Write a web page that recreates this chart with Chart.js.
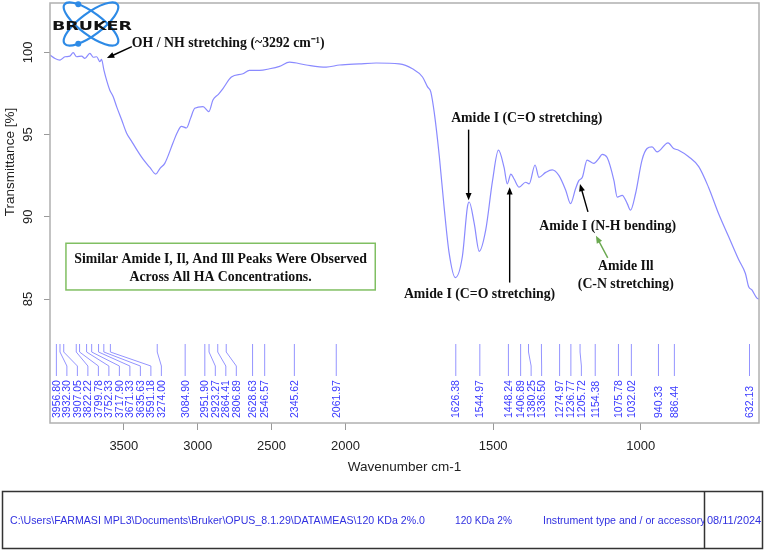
<!DOCTYPE html>
<html>
<head>
<meta charset="utf-8">
<script src="https://cdn.jsdelivr.net/npm/chart.js@4.4.1/dist/chart.umd.min.js"></script>
<style>
    html, body { margin: 0; padding: 0; background: #fff; }
    #wrap { width: 765px; height: 552px; position: relative; }
</style>
</head>
<body>
<div id="wrap"><canvas id="ftir" width="765" height="552"></canvas></div>
<script>
// spectrum (wavenumber cm-1 / transmittance %)
const wavenumbers = [4000, 3966, 3932, 3899, 3865, 3843, 3820, 3786, 3764, 3730, 3707, 3684, 3662, 3651, 3635, 3615,
    3595, 3572, 3549, 3515, 3482, 3448, 3414, 3370, 3324, 3284, 3255, 3223, 3167, 3140, 3110, 3076, 3048, 3020,
    2964, 2924, 2897, 2860, 2829, 2772, 2694, 2650, 2603, 2581, 2513, 2446, 2378, 2265, 2130, 2040, 1953, 1896,
    1818, 1773, 1739, 1722, 1711, 1699, 1682, 1666, 1649, 1628, 1604, 1587, 1581, 1564, 1547, 1525, 1502, 1482,
    1463, 1452, 1440, 1429, 1412, 1390, 1378, 1358, 1345, 1322, 1300, 1277, 1254, 1238, 1221, 1210, 1198, 1182,
    1159, 1142, 1131, 1114, 1091, 1080, 1063, 1046, 1035, 1018, 996, 979, 962, 945, 908, 889, 872, 838, 804, 771,
    737, 703, 669, 646, 635, 624, 607, 600];
const transmittance = [99.84, 99.63, 99.53, 99.73, 99.77, 99.98, 99.73, 99.77, 99.63, 99.94, 99.70, 99.73, 99.43, 99.57, 98.92, 98.25,
    97.7, 97.3, 96.7, 95.9, 95.1, 94.6, 94.1, 93.5, 93.0, 92.6, 92.95, 93.25, 94.5, 95.1, 95.5, 95.4, 96.0, 96.6,
    96.7, 96.4, 97.1, 97.45, 97.8, 98.5, 98.7, 98.9, 98.9, 98.9, 99.0, 99.15, 99.4, 99.23, 99.1, 99.23, 99.3, 99.35,
    99.3, 99.0, 98.5, 97.9, 97.6, 96.3, 93.65, 90.6, 87.8, 86.3, 87.6, 90.6, 90.9, 89.6, 87.9, 89.2, 92.2, 94.05,
    93.0, 92.0, 92.6, 92.3, 91.8, 92.1, 92.0, 93.15, 92.4, 92.7, 92.85, 92.5, 91.6, 90.8, 91.7, 92.2, 92.4, 93.45,
    93.25, 93.55, 93.8, 93.6, 92.2, 91.2, 91.3, 90.8, 90.4, 91.4, 93.45, 94.15, 94.25, 93.95, 94.5, 94.15, 94.05, 93.65, 93.05, 91.8,
    90.2, 88.8, 87.4, 86.55, 85.75, 85.55, 85.05, 85.0];

// peak picking labels
const peakLabels = ['3956.80', '3932.30', '3907.05', '3822.22', '3799.78', '3752.33', '3717.90', '3671.33', '3635.63',
    '3591.18', '3274.00', '3084.90', '2951.90', '2923.27', '2864.41', '2806.89', '2628.63', '2546.57', '2345.62',
    '2061.97', '1626.38', '1544.97', '1448.24', '1406.89', '1380.25', '1336.50', '1274.97', '1236.77', '1205.72',
    '1154.38', '1075.78', '1032.02', '940.33', '886.44', '632.13'];

const xTickValues = [3500, 3000, 2500, 2000, 1500, 1000];
const yTickValues = [85, 90, 95, 100];

// OPUS style axis: 4000-2000 is drawn at half the scale of 2000-600
const toAxis = function (w) {
    return w >= 2000 ? (4000 - w) / 2 : 1000 + (2000 - w);
};
const fromAxis = function (u) {
    return u <= 1000 ? 4000 - 2 * u : 2000 - (u - 1000);
};

// annotations in data units: [wavenumber, transmittance]
const notes = [
    {lines: ['OH / NH stretching (~3292 cm\u207B\u00B9)'], at: [3446, 100.57], align: 'left', from: [3446, 100.35], to: [3615, 99.65], color: '#000'},
    {lines: ['Amide I (C=O stretching)'], at: [1386, 96.0], align: 'center', from: [1583, 95.3], to: [1583, 91.0], color: '#000'},
    {lines: ['Amide I (C=O stretching)'], at: [1546, 85.25], align: 'center', from: [1444, 86.0], to: [1444, 91.8], color: '#000'},
    {lines: ['Amide I (N-H bending)'], at: [1112, 89.44], align: 'center', from: [1179, 90.3], to: [1206, 92.0], color: '#000'},
    {lines: ['Amide Ill', '(C-N stretching)'], at: [1051, 86.97], align: 'center', from: [1112, 87.5], to: [1152, 88.85], color: '#6aa84f'}
];
const boxLines = ['Similar Amide I, Il, And Ill Peaks Were Observed', 'Across All HA Concentrations.'];

const footerTexts = ['C:\\Users\\FARMASI MPL3\\Documents\\Bruker\\OPUS_8.1.29\\DATA\\MEAS\\120 KDa 2%.0', '120 KDa 2%',
    'Instrument type and / or accessory', '08/11/2024'];

const serifBold = 'bold 13.8px "Liberation Serif", "Times New Roman", serif';
const sans = '"Liberation Sans", Arial, sans-serif';

const arrow = function (ctx, x1, y1, x2, y2, color) {
    const a = Math.atan2(y2 - y1, x2 - x1), h = 8;
    ctx.strokeStyle = color;
    ctx.fillStyle = color;
    ctx.lineWidth = 1.4;
    ctx.beginPath();
    ctx.moveTo(x1, y1);
    ctx.lineTo(x2 - Math.cos(a) * h * 0.7, y2 - Math.sin(a) * h * 0.7);
    ctx.stroke();
    ctx.beginPath();
    ctx.moveTo(x2, y2);
    ctx.lineTo(x2 - h * Math.cos(a - 0.38), y2 - h * Math.sin(a - 0.38));
    ctx.lineTo(x2 - h * Math.cos(a + 0.38), y2 - h * Math.sin(a + 0.38));
    ctx.closePath();
    ctx.fill();
};

const drawLogo = function (ctx) {
    ctx.save();
    ctx.strokeStyle = '#2d8ae6';
    ctx.fillStyle = '#2d8ae6';
    ctx.lineWidth = 2.2;
    [0.64, -0.64].forEach(function (ang) {
        ctx.beginPath();
        ctx.ellipse(91, 24, 33, 11, ang, 0, Math.PI * 2);
        ctx.stroke();
        const t = ang > 0 ? -2.3 : 2.3;
        const u = 33 * Math.cos(t), v = 11 * Math.sin(t);
        ctx.beginPath();
        ctx.arc(91 + u * Math.cos(ang) - v * Math.sin(ang), 24 + u * Math.sin(ang) + v * Math.cos(ang), 3, 0, Math.PI * 2);
        ctx.fill();
    });
    ctx.font = 'bold 12px "DejaVu Sans", sans-serif';
    const w = ctx.measureText('BRUKER').width;
    ctx.translate(52, 29.5);
    ctx.scale(80 / w, 1.05);
    ctx.fillStyle = '#111';
    ctx.textAlign = 'left';
    ctx.textBaseline = 'alphabetic';
    ctx.fillText('BRUKER', 0, 0);
    ctx.restore();
};

const decor = {
    id: 'decor',
    afterDatasetsDraw(chart) {
        const ctx = chart.ctx;
        const area = chart.chartArea;
        const xs = chart.scales.x, ys = chart.scales.y;
        const px = function (w) { return xs.getPixelForValue(toAxis(w)); };
        const py = function (t) { return ys.getPixelForValue(t); };
        ctx.save();

        // frame
        ctx.strokeStyle = '#b0b0b0';
        ctx.lineWidth = 1.5;
        ctx.strokeRect(area.left, area.top, area.right - area.left, area.bottom - area.top);

        // y tick labels (rotated) and axis titles
        ctx.fillStyle = '#222';
        ctx.font = '13px ' + sans;
        ctx.textAlign = 'center';
        ctx.textBaseline = 'middle';
        yTickValues.forEach(function (v) {
            ctx.save();
            ctx.translate(28, py(v));
            ctx.rotate(-Math.PI / 2);
            ctx.fillText(String(v), 0, 0);
            ctx.restore();
        });
        ctx.font = '13.5px ' + sans;
        ctx.save();
        ctx.translate(10, 162);
        ctx.rotate(-Math.PI / 2);
        ctx.fillText('Transmittance [%]', 0, 0);
        ctx.restore();
        ctx.fillText('Wavenumber cm-1', (area.left + area.right) / 2, 467);

        // peak labels with leader lines
        let lastX = -100;
        ctx.font = '10.5px ' + sans;
        ctx.textAlign = 'left';
        peakLabels.forEach(function (lab) {
            const x0 = px(parseFloat(lab));
            const x1 = Math.max(x0, lastX + 10.5);
            lastX = x1;
            ctx.strokeStyle = '#9494ff';
            ctx.lineWidth = 1;
            ctx.beginPath();
            ctx.moveTo(x0, 344);
            ctx.lineTo(x0, 352);
            ctx.lineTo(x1, 366);
            ctx.lineTo(x1, 376);
            ctx.stroke();
            ctx.save();
            ctx.translate(x1, 418);
            ctx.rotate(-Math.PI / 2);
            ctx.fillStyle = '#3838ff';
            ctx.fillText(lab, 0, 0.5);
            ctx.restore();
        });

        // annotations
        ctx.font = serifBold;
        ctx.textBaseline = 'middle';
        notes.forEach(function (n) {
            ctx.fillStyle = '#111';
            ctx.textAlign = n.align;
            n.lines.forEach(function (s, i) {
                ctx.fillText(s, px(n.at[0]), py(n.at[1]) + i * 17.5);
            });
            arrow(ctx, px(n.from[0]), py(n.from[1]), px(n.to[0]), py(n.to[1]), n.color);
        });

        // green note box
        const bx0 = px(3892), bx1 = px(1899), by0 = py(88.39), by1 = py(85.55);
        ctx.fillStyle = '#fff';
        ctx.fillRect(bx0, by0, bx1 - bx0, by1 - by0);
        ctx.strokeStyle = '#80bf62';
        ctx.lineWidth = 1.5;
        ctx.strokeRect(bx0, by0, bx1 - bx0, by1 - by0);
        ctx.fillStyle = '#111';
        ctx.textAlign = 'center';
        ctx.font = serifBold;
        boxLines.forEach(function (s, i) {
            ctx.fillText(s, (bx0 + bx1) / 2, by0 + 16 + i * 17.7);
        });

        drawLogo(ctx);

        // footer box
        ctx.strokeStyle = '#333';
        ctx.lineWidth = 1.5;
        ctx.strokeRect(2.5, 491.5, 760, 57);
        ctx.beginPath();
        ctx.moveTo(704.5, 491.5);
        ctx.lineTo(704.5, 548.5);
        ctx.stroke();
        ctx.fillStyle = '#3030e0';
        ctx.font = '11px ' + sans;
        ctx.textAlign = 'left';
        ctx.fillText(footerTexts[0], 10, 521, 415);
        ctx.fillText(footerTexts[1], 455, 521, 57);
        ctx.save();
        ctx.beginPath();
        ctx.rect(540, 492, 164, 56);
        ctx.clip();
        ctx.font = '10.6px ' + sans;
        ctx.fillText(footerTexts[2], 543, 521);
        ctx.restore();
        ctx.fillText(footerTexts[3], 707, 521, 55);

        ctx.restore();
    }
};

const spectrum = wavenumbers.map(function (w, i) {
    return {x: toAxis(w), y: transmittance[i]};
});

new Chart(document.getElementById('ftir').getContext('2d'), {
    type: 'line',
    data: {
        datasets: [{
            label: '120 KDa 2%',
            data: spectrum,
            borderColor: '#8a8aff',
            borderWidth: 1.2,
            pointRadius: 0,
            cubicInterpolationMode: 'monotone',
            fill: false
        }]
    },
    options: {
        responsive: false,
        animation: false,
        devicePixelRatio: 1,
        layout: {padding: {top: 3, right: 6, left: 0, bottom: 77}},
        plugins: {legend: {display: false}, tooltip: {enabled: false}},
        scales: {
            x: {
                type: 'linear',
                min: 0,
                max: toAxis(600),
                afterFit: function (s) { s.height = 52; },
                afterBuildTicks: function (s) {
                    s.ticks = xTickValues.map(function (w) { return {value: toAxis(w)}; });
                },
                border: {display: false},
                grid: {drawOnChartArea: false, tickLength: 7, color: '#999'},
                ticks: {
                    autoSkip: false,
                    maxRotation: 0,
                    padding: 9,
                    color: '#222',
                    font: {family: 'Liberation Sans', size: 13},
                    callback: function (v) { return String(Math.round(fromAxis(v))); }
                }
            },
            y: {
                min: 77.46,
                max: 103.0,
                afterFit: function (s) { s.width = 50; },
                afterBuildTicks: function (s) {
                    s.ticks = yTickValues.map(function (v) { return {value: v}; });
                },
                border: {display: false},
                grid: {drawOnChartArea: false, tickLength: 6, color: '#999'},
                ticks: {display: false}
            }
        }
    },
    plugins: [decor]
});
</script>
</body>
</html>
